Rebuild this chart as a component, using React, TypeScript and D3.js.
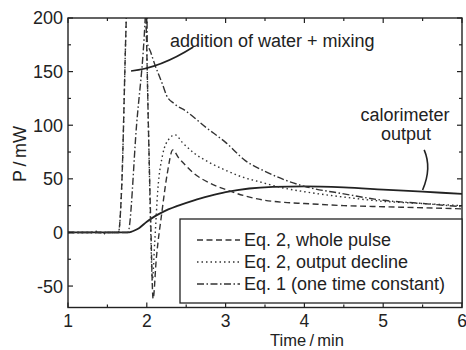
import React from "react";
import * as d3 from "d3";

// ---- data ----
const calTime = [1, 1.5, 1.75, 1.8, 1.85, 1.9, 2.0, 2.1, 2.2, 2.4, 2.6, 2.8, 3.0, 3.3, 3.6, 4.0, 4.5, 5.0, 5.5, 6.0];
const calP = [0, 0, 0, 0.5, 2, 4, 10, 15, 19, 25, 30, 34, 37.5, 41, 42.5, 43, 42, 40, 38, 36];

const wholeTime = [1, 1.3, 1.34, 1.38, 1.6, 1.64, 1.68, 1.74, 1.77, 1.95, 1.99, 2.02, 2.05, 2.08, 2.12, 2.19, 2.26, 2.33, 2.4, 2.5, 2.6, 2.8, 3.0, 3.25, 3.5, 3.75, 4.0, 4.5, 5.0, 5.5, 6.0];
const wholeP = [0, 0, 2, 0, 0, 0, 40, 200, 260, 260, 200, 100, 10, -62, -25, 18, 55, 77, 70, 62, 55, 46, 40, 34, 30, 28, 27, 25, 24, 23, 22];

const declTime = [1, 1.45, 1.47, 1.5, 1.64, 1.68, 1.74, 1.77, 1.95, 1.99, 2.02, 2.05, 2.07, 2.1, 2.14, 2.2, 2.28, 2.36, 2.45, 2.6, 2.8, 3.0, 3.2, 3.44, 3.7, 4.0, 4.5, 5.0, 5.5, 6.0];
const declP = [0, 0, -1.5, 0, 0, 40, 200, 260, 260, 200, 100, 0, -45, -10, 40, 72, 87, 91, 84, 74, 65, 58, 52, 47, 42, 38, 33, 29, 27, 25];

const eq1Time = [1, 1.62, 1.76, 1.87, 1.98, 1.99, 2.0, 2.005, 2.05, 2.1, 2.2, 2.25, 2.35, 2.5, 2.75, 3.0, 3.25, 3.5, 3.75, 4.0, 4.5, 5.0, 5.5, 6.0];
const eq1P = [0, 0, 0, 100, 200, 215, 240, 178, 168, 157, 138, 128, 120, 113, 98, 84, 67, 57, 49, 43, 36, 30, 27, 24];

const xTicks = [1, 2, 3, 4, 5, 6];
const xMinor = [1.5, 2.5, 3.5, 4.5, 5.5];
const yTicks = [-50, 0, 50, 100, 150, 200];
const yMinor = [-25, 25, 75, 125, 175];

const legendLabels = ["Eq. 2, whole pulse", "Eq. 2, output decline", "Eq. 1 (one time constant)"];
const xLabel = "Time\u2009/\u2009min";
const yLabel = "P\u2009/\u2009mW";
const annoWater = "addition of water + mixing";
const annoCal = ["calorimeter", "output"];

// annotation leaders in data units
const waterLeader = [[1.8, 150.6], [2.17, 153.4], [2.59, 173]];
const calLeader = [[5.52, 77], [5.62, 60], [5.5, 39.6]];

const W = 466, H = 350;
const FONT = "'Liberation Sans', Arial, Helvetica, sans-serif";
const INK = "#222";
const FS = 18;

export default function App() {
  const x = d3.scaleLinear().domain([1, 6]).range([68, 462]);
  const y = d3.scaleLinear().domain([-70, 200]).range([307.5, 18]);
  const [x0, x1] = x.range();
  const [yb, yt] = y.range();

  const line = d3
    .line<[number, number]>()
    .x((d) => x(d[0]))
    .y((d) => y(d[1]))
    .curve(d3.curveMonotoneX);
  const zip = (t: number[], p: number[]) => t.map((v, i) => [v, p[i]] as [number, number]);

  const series = [
    { d: zip(wholeTime, wholeP), dash: "6,3.5", w: 1.4 },
    { d: zip(declTime, declP), dash: "1.5,3", w: 1.4 },
    { d: zip(eq1Time, eq1P), dash: "7,2.5,1.5,2.5", w: 1.4 },
  ];

  const quad = (pts: number[][]) =>
    `M${x(pts[0][0])},${y(pts[0][1])} Q${x(pts[1][0])},${y(pts[1][1])} ${x(pts[2][0])},${y(pts[2][1])}`;

  const lg = { x: 180, y: 219, w: 282, h: 84 };

  return (
    <svg
      width={W}
      height={H}
      style={{ position: "absolute", left: 0, top: 0, background: "#fff" }}
      fontFamily={FONT}
    >
      <defs>
        <clipPath id="plot">
          <rect x={x0} y={yt} width={x1 - x0} height={yb - yt} />
        </clipPath>
      </defs>
      <rect width={W} height={H} fill="#fff" />

      {/* curves */}
      <g clipPath="url(#plot)" fill="none">
        <path d={line(zip(calTime, calP)) || ""} stroke={INK} strokeWidth={1.8} />
        {series.map((s, i) => (
          <path key={i} d={line(s.d) || ""} stroke="#333" strokeWidth={s.w} strokeDasharray={s.dash} />
        ))}
      </g>

      {/* frame */}
      <rect x={x0} y={yt} width={x1 - x0} height={yb - yt} fill="none" stroke={INK} strokeWidth={1.4} />

      {/* ticks */}
      <g stroke={INK} strokeWidth={1.2}>
        {xTicks.map((t) => (
          <g key={"xt" + t}>
            <line x1={x(t)} x2={x(t)} y1={yb} y2={yb - 5} />
            <line x1={x(t)} x2={x(t)} y1={yt} y2={yt + 5} />
          </g>
        ))}
        {xMinor.map((t) => (
          <g key={"xm" + t}>
            <line x1={x(t)} x2={x(t)} y1={yb} y2={yb - 3} />
            <line x1={x(t)} x2={x(t)} y1={yt} y2={yt + 3} />
          </g>
        ))}
        {yTicks.map((t) => (
          <g key={"yt" + t}>
            <line x1={x0} x2={x0 + 5} y1={y(t)} y2={y(t)} />
            <line x1={x1} x2={x1 - 5} y1={y(t)} y2={y(t)} />
          </g>
        ))}
        {yMinor.map((t) => (
          <g key={"ym" + t}>
            <line x1={x0} x2={x0 + 3} y1={y(t)} y2={y(t)} />
            <line x1={x1} x2={x1 - 3} y1={y(t)} y2={y(t)} />
          </g>
        ))}
      </g>

      {/* tick labels */}
      <g fontSize={FS} fill={INK}>
        {xTicks.map((t) => (
          <text key={"xl" + t} x={x(t)} y={326.5} fontSize={17.5} textAnchor="middle">
            {t}
          </text>
        ))}
        {yTicks.map((t) => (
          <text key={"yl" + t} x={63} y={y(t)} dy="0.36em" textAnchor="end">
            {t}
          </text>
        ))}
      </g>

      {/* axis titles */}
      <text x={307} y={345.8} textAnchor="middle" fontSize={16.5} fill={INK}>
        {xLabel}
      </text>
      <text transform={`translate(26,154) rotate(-90)`} textAnchor="middle" fontSize={FS} fill={INK}>
        {yLabel}
      </text>

      {/* annotations */}
      <text x={170} y={46.5} fontSize={FS} fill={INK}>
        {annoWater}
      </text>
      <path d={quad(waterLeader)} fill="none" stroke={INK} strokeWidth={1.6} />
      <text x={405} y={121} fontSize={FS} fill={INK} textAnchor="middle">
        {annoCal[0]}
      </text>
      <text x={406} y={140} fontSize={FS} fill={INK} textAnchor="middle">
        {annoCal[1]}
      </text>
      <path d={quad(calLeader)} fill="none" stroke={INK} strokeWidth={1.6} />

      {/* legend */}
      <rect x={lg.x} y={lg.y} width={lg.w} height={lg.h} fill="#fff" stroke={INK} strokeWidth={1.3} />
      {legendLabels.map((lab, i) => {
        const yy = 240 + i * 22;
        return (
          <g key={lab}>
            <line x1={197} x2={240} y1={yy} y2={yy} stroke="#333" strokeWidth={1.4} strokeDasharray={series[i].dash} />
            <text x={244} y={yy} dy="0.36em" fontSize={FS} fill={INK}>
              {lab}
            </text>
          </g>
        );
      })}
    </svg>
  );
}
